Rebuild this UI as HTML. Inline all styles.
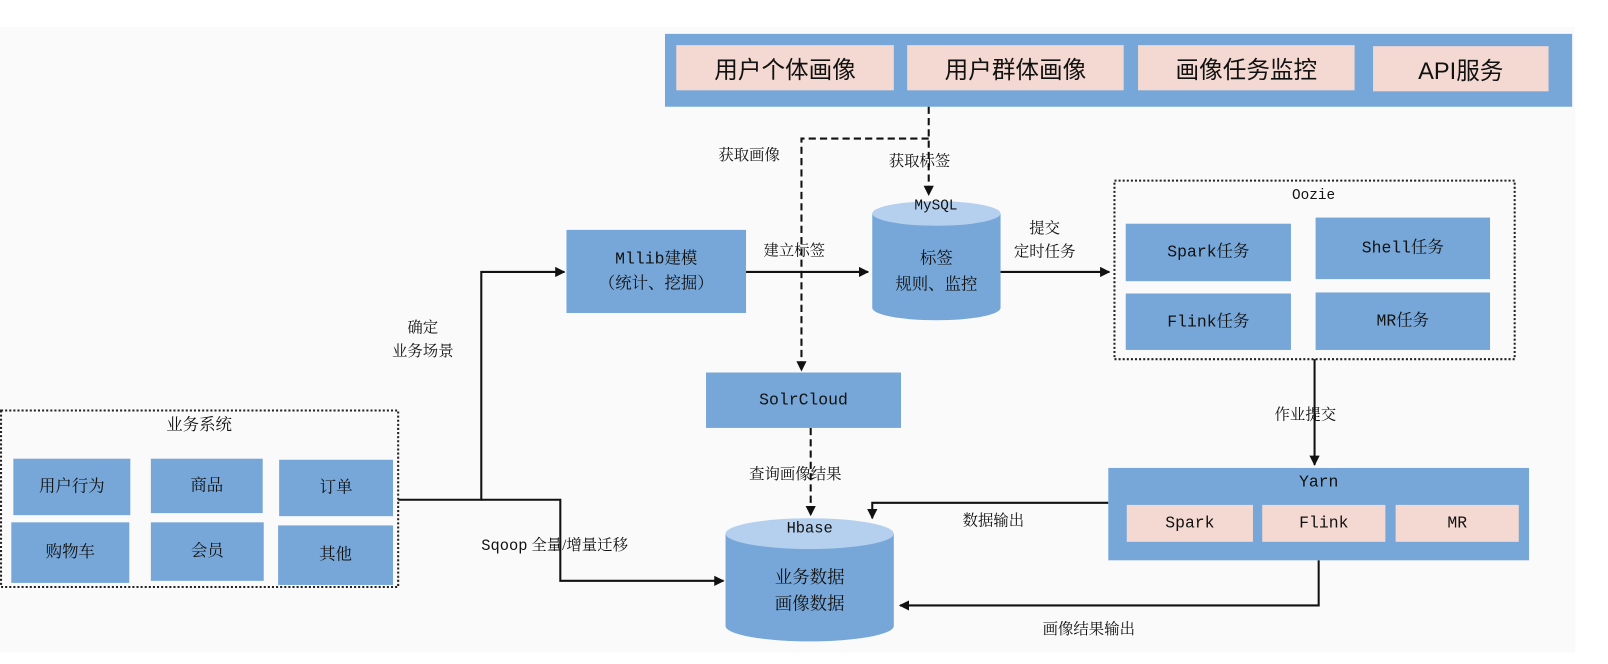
<!DOCTYPE html>
<html><head><meta charset="utf-8"><style>
html,body{margin:0;padding:0;background:#fff;width:1608px;height:664px;overflow:hidden}
#w{position:absolute;left:0;top:0;width:1567px;height:647px;transform:scale(1.0262);transform-origin:0 0;font-family:"Liberation Serif","Noto Serif CJK SC",serif;color:#111}
.bg{position:absolute;left:0;top:26px;width:1535px;height:610px;background:#fafafa}
.b{position:absolute;background:#76a7d8;display:flex;align-items:center;justify-content:center;text-align:center;font-size:16px;line-height:24px}
.p{position:absolute;background:#f3d9d1;display:flex;align-items:center;justify-content:center;font-size:16px}
.big{font-size:23px;font-family:"Liberation Sans","Noto Sans CJK SC",sans-serif}
.t{position:absolute;font-size:15px;line-height:22px;white-space:nowrap;text-align:center}
.m{font-family:"Liberation Mono","Noto Serif CJK SC",monospace}
svg{position:absolute;left:0;top:0}
</style></head><body><div id="w">
<div class="bg"></div>
<div class="b" style="left:648px;top:33px;width:884px;height:71px"></div>
<div class="p big" style="left:659px;top:44px;width:212px;height:44px">用户个体画像</div>
<div class="p big" style="left:884px;top:44px;width:211px;height:44px">用户群体画像</div>
<div class="p big" style="left:1109px;top:44px;width:211px;height:44px">画像任务监控</div>
<div class="p big" style="left:1338px;top:45px;width:171px;height:44px">API服务</div>

<div class="b" style="left:552px;top:224px;width:175px;height:81px"><span><span class="m">Mllib</span>建模<br>（统计、挖掘）</span></div>

<svg width="1567" height="647">
<defs><marker id="a" markerWidth="10" markerHeight="10" refX="9" refY="5" orient="auto" markerUnits="userSpaceOnUse"><path d="M0,0 L10,5 L0,10z" fill="#111"/></marker></defs>
<!-- MySQL cylinder -->
<path d="M850,208 L850,300 A62,12 0 0 0 975,300 L975,208 Z" fill="#76a7d8"/>
<ellipse cx="912.5" cy="208" rx="62.5" ry="12" fill="#b4d0ee"/>
<!-- Hbase cylinder -->
<path d="M707,520 L707,610 A82,15 0 0 0 871,610 L871,520 Z" fill="#76a7d8"/>
<ellipse cx="789" cy="520" rx="82" ry="15" fill="#b4d0ee"/>
<g stroke="#111" stroke-width="2" fill="none">
<path d="M388,487 H469 V265 H550" marker-end="url(#a)"/>
<path d="M469,487 H546 V566 H705" marker-end="url(#a)"/>
<path d="M727,265 H846" marker-end="url(#a)"/>
<path d="M975,265 H1081" marker-end="url(#a)"/>
<path d="M1281,350 V453" marker-end="url(#a)"/>
<path d="M1080,490 H850 V505" marker-end="url(#a)"/>
<path d="M1285,546 V590 H877" marker-end="url(#a)"/>
</g>
<g stroke="#111" stroke-width="2" fill="none" stroke-dasharray="7,4">
<path d="M905,104 V190" marker-end="url(#a)"/>
<path d="M905,135 H781 V361" marker-end="url(#a)"/>
<path d="M790,417 V502" marker-end="url(#a)"/>
</g>
<g stroke="#222" stroke-width="2" fill="none" stroke-dasharray="2,2">
<rect x="1086" y="176" width="390" height="174"/>
<rect x="1" y="400" width="387" height="172"/>
</g>
</svg>

<div class="t m" style="left:862px;top:190px;width:100px;font-size:14px">MySQL</div>
<div class="t" style="left:850px;top:240px;width:125px;font-size:16px;line-height:25px">标签<br>规则、监控</div>
<div class="t m" style="left:739px;top:505px;width:100px;font-size:15px">Hbase</div>
<div class="t" style="left:707px;top:550px;width:164px;font-size:17px;line-height:26px">业务数据<br>画像数据</div>

<div class="t m" style="left:1230px;top:180px;width:100px;font-size:14px">Oozie</div>
<div class="b" style="left:1097px;top:218px;width:161px;height:56px"><span class="m">Spark</span>任务</div>
<div class="b" style="left:1282px;top:212px;width:170px;height:60px"><span class="m">Shell</span>任务</div>
<div class="b" style="left:1097px;top:286px;width:161px;height:55px"><span class="m">Flink</span>任务</div>
<div class="b" style="left:1282px;top:285px;width:170px;height:56px"><span class="m">MR</span>任务</div>

<div class="b m" style="left:688px;top:363px;width:190px;height:54px">SolrCloud</div>

<div class="b" style="left:1080px;top:456px;width:410px;height:90px;align-items:flex-start"><span class="m" style="margin-top:2px">Yarn</span></div>
<div class="p m" style="left:1098px;top:492px;width:123px;height:36px">Spark</div>
<div class="p m" style="left:1230px;top:492px;width:120px;height:36px">Flink</div>
<div class="p m" style="left:1360px;top:492px;width:120px;height:36px">MR</div>

<div class="t" style="left:144px;top:404px;width:100px;font-size:16px">业务系统</div>
<div class="b" style="left:13px;top:447px;width:114px;height:55px">用户行为</div>
<div class="b" style="left:147px;top:447px;width:109px;height:53px">商品</div>
<div class="b" style="left:272px;top:448px;width:111px;height:55px">订单</div>
<div class="b" style="left:11px;top:509px;width:115px;height:59px">购物车</div>
<div class="b" style="left:147px;top:509px;width:110px;height:57px">会员</div>
<div class="b" style="left:271px;top:512px;width:112px;height:58px">其他</div>

<div class="t" style="left:700px;top:141px">获取画像</div>
<div class="t" style="left:866px;top:147px">获取标签</div>
<div class="t" style="left:744px;top:234px">建立标签</div>
<div class="t" style="left:988px;top:212px;line-height:23px">提交<br>定时任务</div>
<div class="t" style="left:382px;top:309px;line-height:23px">确定<br>业务场景</div>
<div class="t" style="left:469px;top:521px"><span class="m">Sqoop</span> 全量/增量迁移</div>
<div class="t" style="left:730px;top:452px">查询画像结果</div>
<div class="t" style="left:938px;top:497px">数据输出</div>
<div class="t" style="left:1242px;top:394px">作业提交</div>
<div class="t" style="left:1016px;top:603px">画像结果输出</div>
</div></body></html>
